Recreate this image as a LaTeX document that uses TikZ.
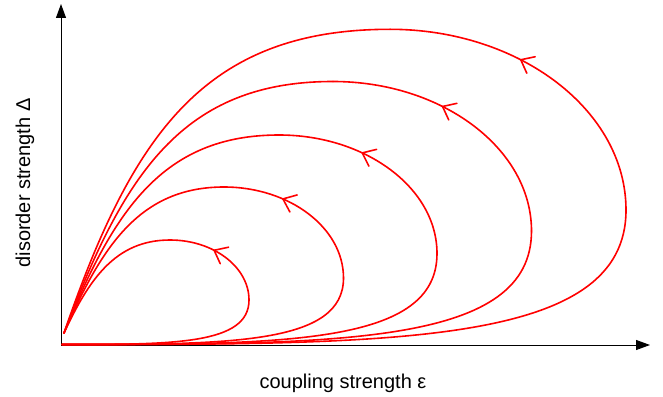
\documentclass[tikz,border=0pt]{standalone}
\usepackage{fontspec}
\setmainfont{Liberation Sans}
\usetikzlibrary{arrows.meta,decorations.markings}
\begin{document}
\begin{tikzpicture}[x=1pt,y=-1pt,
  axis/.style={line width=0.9pt,black,{Triangle[length=14pt,width=10pt]}-{Triangle[length=14pt,width=10pt]}},
  orbit/.style={red,line width=1.6pt,line cap=round},
  flow/.style={orbit,postaction={decorate},decoration={markings,mark=at position #1 with {\arrow{Straight Barb[length=11.5pt,width=18.5pt,round]}}}},
  lab/.style={font=\fontsize{20}{24}\selectfont,inner sep=0pt,anchor=base}
]
\useasboundingbox (0,0) rectangle (663,396);
% axes
\coordinate (O) at (61,345);
\coordinate (ytip) at (61,4);
\coordinate (xtip) at (650,345);
\draw[axis] (ytip) -- (O) -- (xtip);
\node[lab] (xlab) at (343,388.3) {coupling strength ε};
\node[lab,rotate=90] (ylab) at (30,183) {disorder strength Δ};
% common ends
\coordinate (S) at (64,333);
\coordinate (E) at (62,344.5);
% loop 1
\coordinate (T1) at (170,240); \coordinate (R1) at (249,300);
\draw[orbit] (E) .. controls (174.2,344.5) and (249,344.5) .. (R1);
\draw[flow=0.59] (R1) .. controls (249,267) and (213.5,240) .. (T1);
\draw[orbit] (T1) .. controls (114.9,240) and (88.6,280.3) .. (S);
% loop 2
\coordinate (T2) at (224,187); \coordinate (R2) at (343.5,278);
\draw[orbit] (E) .. controls (230.9,344.5) and (343.5,344.5) .. (R2);
\draw[flow=0.64] (R2) .. controls (343.5,228) and (289.7,187) .. (T2);
\draw[orbit] (T2) .. controls (139.2,187) and (101.2,247.3) .. (S);
% loop 3
\coordinate (T3) at (279,135); \coordinate (R3) at (437,253.5);
\draw[orbit] (E) .. controls (287,344.5) and (437,344.5) .. (R3);
\draw[flow=0.61] (R3) .. controls (437,188.3) and (365.9,135) .. (T3);
\draw[orbit] (T3) .. controls (161.8,135) and (113,211.8) .. (S);
% loop 4
\coordinate (T4) at (333,81.5); \coordinate (R4) at (531.5,231);
\draw[orbit] (E) .. controls (343.7,344.5) and (531.5,344.5) .. (R4);
\draw[flow=0.59] (R4) .. controls (531.5,148.8) and (442.2,81.5) .. (T4);
\draw[orbit] (T4) .. controls (182.4,81.5) and (123.5,174) .. (S);
% loop 5
\coordinate (T5) at (390,29.3); \coordinate (R5) at (626,210);
\draw[orbit] (E) .. controls (400.4,344.5) and (626,344.5) .. (R5);
\draw[flow=0.59] (R5) .. controls (626,110.6) and (519.8,29.3) .. (T5);
\draw[orbit] (T5) .. controls (204.2,29.3) and (132.2,134.8) .. (S);
\end{tikzpicture}
\end{document}
